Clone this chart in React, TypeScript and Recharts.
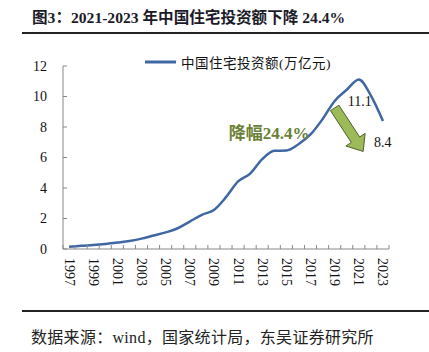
import React from "react";
import { LineChart, Line, XAxis, YAxis, Legend, ReferenceDot } from "recharts";

const years = ["1997","1998","1999","2000","2001","2002","2003","2004","2005","2006","2007","2008","2009","2010","2011","2012","2013","2014","2015","2016","2017","2018","2019","2020","2021","2022","2023"];
const investment = [0.14,0.21,0.26,0.33,0.42,0.52,0.68,0.88,1.09,1.36,1.80,2.24,2.56,3.40,4.43,4.94,5.89,6.44,6.46,6.87,7.51,8.52,9.71,10.44,11.12,10.06,8.39];
const yTicks = [0, 2, 4, 6, 8, 10, 12];
const seriesName = "中国住宅投资额(万亿元)";
const titleText = "图3：2021-2023 年中国住宅投资额下降 24.4%";
const sourceText = "数据来源：wind，国家统计局，东吴证券研究所";
const peakLabel = { year: "2021", value: 11.1, text: "11.1" };
const endLabel = { year: "2023", value: 8.4, text: "8.4" };
const dropText = "降幅24.4%";
const arrowFrom = { year: "2019", value: 9.25 };

const data = years.map((y, i) => ({ year: y, value: investment[i] }));

const W = 429;
const H = 352;
const PLOT_LEFT = 63;
const PLOT_RIGHT = 389;
const PLOT_TOP = 66;
const PLOT_BOTTOM = 249;
const BAND = (PLOT_RIGHT - PLOT_LEFT) / years.length;
const LINE_COLOR = "#3f67a3";
const SERIF = "'Liberation Serif', 'Times New Roman', 'Noto Sans CJK SC', serif";
const CJK = "'Liberation Serif', 'Noto Sans CJK SC', serif";

const XTick = (props: any) => {
  const { x, y, index, payload } = props;
  const left = x - BAND / 2;
  const isLast = index === years.length - 1;
  return (
    <g>
      <line x1={left} y1={y} x2={left} y2={y - 4} stroke="#888" strokeWidth={1} />
      {isLast && <line x1={x + BAND / 2} y1={y} x2={x + BAND / 2} y2={y - 4} stroke="#888" strokeWidth={1} />}
      {index % 2 === 0 && (
        <text
          transform={`translate(${x},${y + 9}) rotate(90)`}
          textAnchor="start"
          dominantBaseline="central"
          fontFamily={SERIF}
          fontSize={14}
          fill="#111"
        >
          {payload.value}
        </text>
      )}
    </g>
  );
};

const YTick = (props: any) => {
  const { x, y, payload } = props;
  return (
    <g>
      <line x1={x} y1={y} x2={x + 4} y2={y} stroke="#888" strokeWidth={1} />
      <text x={x - 16} y={y} textAnchor="end" dominantBaseline="central" fontFamily={SERIF} fontSize={14} fill="#111">
        {payload.value}
      </text>
    </g>
  );
};

const LegendContent = (props: any) => {
  const p = (props.payload || [])[0];
  return (
    <div style={{ display: "flex", alignItems: "center", whiteSpace: "nowrap" }}>
      <svg width={36} height={10}>
        <line x1={0} y1={5} x2={31} y2={5} stroke={LINE_COLOR} strokeWidth={3} />
      </svg>
      <span style={{ fontFamily: CJK, fontSize: 13.5, color: "#111", letterSpacing: 0.5 }}>{p ? p.value : seriesName}</span>
    </div>
  );
};

const ArrowShape = (props: any) => {
  const { cx, cy } = props;
  const dx = 28.5, dy = 43.5;
  const L = Math.sqrt(dx * dx + dy * dy);
  const ux = dx / L, uy = dy / L;
  const px = uy, py = -ux;
  const w = 5, hw = 11.5, hl = 14;
  const pt = (a: number, b: number) => `${cx + ux * a + px * b},${cy + uy * a + py * b}`;
  const pts = [pt(0, w), pt(L - hl, w), pt(L - hl, hw), pt(L, 0), pt(L - hl, -hw), pt(L - hl, -w), pt(0, -w)].join(" ");
  return (
    <g>
      <polygon points={pts} fill="#9bbb59" stroke="#4f6228" strokeWidth={1} />
      <text x={cx - 106} y={cy + 26} dominantBaseline="central" fontFamily={CJK} fontWeight="bold" fontSize={17} fill="#6a8034">
        {dropText}
      </text>
    </g>
  );
};

const PeakLabelShape = (props: any) => {
  const { cx, cy } = props;
  return (
    <text x={cx + 1} y={cy + 22} textAnchor="middle" dominantBaseline="central" fontFamily={SERIF} fontSize={14} fill="#111">
      {peakLabel.text}
    </text>
  );
};

const EndLabelShape = (props: any) => {
  const { cx, cy } = props;
  return (
    <text x={cx - 9} y={cy + 22} textAnchor="start" dominantBaseline="central" fontFamily={SERIF} fontSize={14} fill="#111">
      {endLabel.text}
    </text>
  );
};

export default function App() {
  return (
    <div style={{ position: "absolute", left: 0, top: 0, width: W, height: H, background: "#fff" }}>
      <div
        style={{
          position: "absolute",
          left: 32,
          top: 7,
          fontFamily: CJK,
          fontWeight: "bold",
          fontSize: 15.6,
          color: "#1b1b2a",
          whiteSpace: "nowrap",
          lineHeight: "22px",
        }}
      >
        {titleText}
      </div>
      <div style={{ position: "absolute", left: 22, top: 32, width: W - 22, height: 2, background: "#222" }} />
      <div style={{ position: "absolute", left: 22, top: 310, width: W - 22, height: 2, background: "#222" }} />
      <div
        style={{
          position: "absolute",
          left: 31,
          top: 327,
          fontFamily: CJK,
          fontSize: 16,
          letterSpacing: 0.3,
          color: "#222",
          whiteSpace: "nowrap",
          lineHeight: "22px",
        }}
      >
        {sourceText}
      </div>
      <div style={{ position: "absolute", left: 0, top: 0 }}>
        <LineChart
          width={W}
          height={H}
          data={data}
          margin={{ top: PLOT_TOP, right: W - PLOT_RIGHT, bottom: H - PLOT_BOTTOM - 40, left: PLOT_LEFT - 40 }}
        >
          <XAxis
            dataKey="year"
            scale="band"
            interval={0}
            height={40}
            tickSize={0}
            tickMargin={0}
            tickLine={false}
            axisLine={{ stroke: "#888", strokeWidth: 1 }}
            tick={<XTick />}
          />
          <YAxis
            domain={[0, 12]}
            ticks={yTicks}
            width={40}
            tickSize={0}
            tickMargin={0}
            tickLine={false}
            axisLine={{ stroke: "#888", strokeWidth: 1 }}
            tick={<YTick />}
          />
          <Legend
            layout="horizontal"
            verticalAlign="middle"
            align="center"
            wrapperStyle={{ position: "absolute", top: 52, left: 145, width: "auto" }}
            content={<LegendContent />}
          />
          <Line
            type="monotone"
            dataKey="value"
            name={seriesName}
            stroke={LINE_COLOR}
            strokeWidth={2.5}
            dot={false}
            activeDot={false}
            isAnimationActive={false}
          />
          <ReferenceDot x={arrowFrom.year} y={arrowFrom.value} r={0} shape={<ArrowShape />} />
          <ReferenceDot x={peakLabel.year} y={peakLabel.value} r={0} shape={<PeakLabelShape />} />
          <ReferenceDot x={endLabel.year} y={endLabel.value} r={0} shape={<EndLabelShape />} />
        </LineChart>
      </div>
    </div>
  );
}
